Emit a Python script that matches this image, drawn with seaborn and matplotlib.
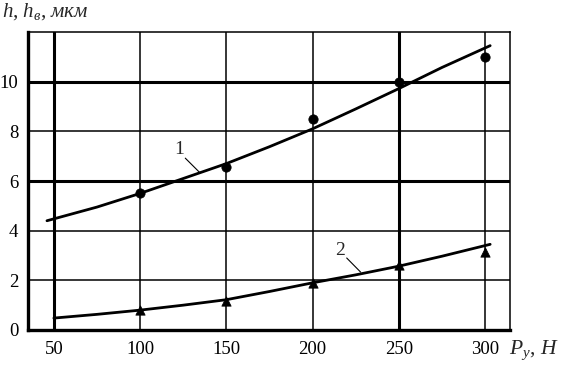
import matplotlib
matplotlib.use("Agg")
import matplotlib.pyplot as plt
import seaborn as sns
import pandas as pd

load = [100, 150, 200, 250, 300]
h_pts = [5.5, 6.55, 8.5, 10.0, 11.0]      # curve 1, circles
hv_pts = [0.8, 1.17, 1.9, 2.6, 3.15]      # curve 2, triangles

# Trend curves
curve1_x = [46, 75, 100, 125, 150, 175, 200, 225, 250, 275, 303]
curve1_y = [4.4, 4.95, 5.5, 6.1, 6.7, 7.38, 8.1, 8.9, 9.72, 10.57, 11.45]
curve2_x = [50, 75, 100, 125, 150, 175, 200, 225, 250, 275, 303]
curve2_y = [0.48, 0.63, 0.8, 1.0, 1.22, 1.55, 1.9, 2.22, 2.57, 2.97, 3.45]

x_ticks = [50, 100, 150, 200, 250, 300]
y_ticks = [0, 2, 4, 6, 8, 10]

sns.set_style("white")
plt.rcParams['font.family'] = ['Liberation Serif', 'DejaVu Serif']
plt.rcParams['mathtext.fontset'] = 'custom'
plt.rcParams['mathtext.rm'] = 'Liberation Serif'
plt.rcParams['mathtext.it'] = 'Liberation Serif:italic'

fig = plt.figure(figsize=(5.62, 3.67), dpi=100)
ax = fig.add_axes([28 / 562, 1 - 330 / 367, (510 - 28) / 562, (330 - 32) / 367])

# grid: some lines heavy, some light
for x in x_ticks:
    ax.axvline(x, color='black', lw=2.2 if x in (50, 250) else 1.1, zorder=1)
for y in y_ticks[1:]:
    ax.axhline(y, color='black', lw=2.2 if y in (6, 10) else 1.1, zorder=1)

sns.lineplot(x=curve1_x, y=curve1_y, color='black', lw=2.0, ax=ax, zorder=3)
sns.lineplot(x=curve2_x, y=curve2_y, color='black', lw=2.0, ax=ax, zorder=3)
sns.scatterplot(x=load, y=h_pts, marker='o', s=45, color='black', edgecolor='black', ax=ax, zorder=4)
sns.scatterplot(x=load, y=hv_pts, marker='^', s=45, color='black', edgecolor='black', ax=ax, zorder=4)

ax.set_xlim(35, 314.5)
ax.set_ylim(0, 12)
ax.set_xticks(x_ticks)
ax.set_yticks(y_ticks)
ax.tick_params(axis='both', length=0, labelsize=13.5, colors='black')
ax.tick_params(axis='x', pad=8)
ax.tick_params(axis='y', pad=7)

for side in ['left', 'bottom']:
    ax.spines[side].set_linewidth(2.4)
for side in ['top', 'right']:
    ax.spines[side].set_linewidth(1.1)
for s in ax.spines.values():
    s.set_color('black')

# curve labels with leaders
ax.text(122.7, 7.25, '1', fontsize=14, ha='center', va='center')
ax.plot([126.2, 134.3], [6.92, 6.36], color='black', lw=0.8)
ax.text(215.7, 3.2, '2', fontsize=14, ha='center', va='center')
ax.plot([219.8, 227.9], [2.9, 2.33], color='black', lw=0.8)

fig.text(2 / 562, 1 - 12 / 367, r'$h$, $h_{в}$, $мкм$', fontsize=15, ha='left', va='center')
fig.text(509 / 562, 1 - 350 / 367, r'$P_y$, $H$', fontsize=15.5, ha='left', va='center')

fig.savefig('out.png', dpi=100)
